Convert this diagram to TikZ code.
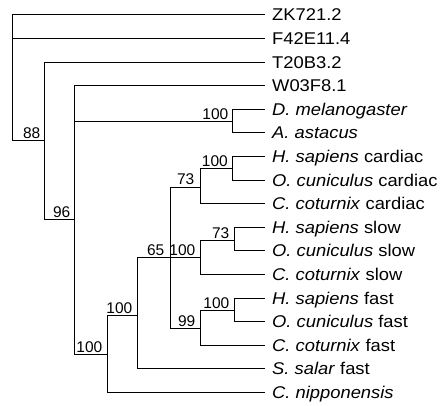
\documentclass[tikz,border=0pt]{standalone}
\usepackage{fontspec}
\setmainfont{Liberation Sans}
\newfontfamily\leaffont{Liberation Sans}[FakeStretch=1.08]
\begin{document}
\begin{tikzpicture}[x=1pt,y=-1pt,
  br/.style={line width=1.8pt, line join=miter},
  leaf/.style={anchor=base west, inner sep=0pt, font=\leaffont\fontsize{17}{20}\selectfont},
  bs/.style={anchor=base east, inner sep=0pt, font=\fontsize{15.5}{18}\selectfont}]
\useasboundingbox (0,0) rectangle (442,405);
% leaf tips
\def\tx{265}
\foreach \n/\i in {ZK/0,F42/1,T20/2,W03/3,Dm/4,Aa/5,Hsc/6,Occ/7,Ccc/8,Hss/9,Ocs/10,Ccs/11,Hsf/12,Ocf/13,Ccf/14,Ss/15,Cn/16}{
  \coordinate (t\n) at (\tx,{floor(14.8+23.6*\i)+0.5});
}
% leaf labels
\node[leaf] (lZK)  at ([xshift=7pt,yshift=-5.5pt]tZK)  {ZK721.2};
\node[leaf] (lF42) at ([xshift=7pt,yshift=-5.5pt]tF42) {F42E11.4};
\node[leaf] (lT20) at ([xshift=7pt,yshift=-5.5pt]tT20) {T20B3.2};
\node[leaf] (lW03) at ([xshift=7pt,yshift=-5.5pt]tW03) {W03F8.1};
\node[leaf] (lDm)  at ([xshift=7pt,yshift=-5.5pt]tDm)  {\itshape D. melanogaster};
\node[leaf] (lAa)  at ([xshift=7pt,yshift=-5.5pt]tAa)  {\itshape A. astacus};
\node[leaf] (lHsc) at ([xshift=7pt,yshift=-5.5pt]tHsc) {\textit{H. sapiens} cardiac};
\node[leaf] (lOcc) at ([xshift=7pt,yshift=-5.5pt]tOcc) {\textit{O. cuniculus} cardiac};
\node[leaf] (lCcc) at ([xshift=7pt,yshift=-5.5pt]tCcc) {\textit{C. coturnix} cardiac};
\node[leaf] (lHss) at ([xshift=7pt,yshift=-5.5pt]tHss) {\textit{H. sapiens} slow};
\node[leaf] (lOcs) at ([xshift=7pt,yshift=-5.5pt]tOcs) {\textit{O. cuniculus} slow};
\node[leaf] (lCcs) at ([xshift=7pt,yshift=-5.5pt]tCcs) {\textit{C. coturnix} slow};
\node[leaf] (lHsf) at ([xshift=7pt,yshift=-5.5pt]tHsf) {\textit{H. sapiens} fast};
\node[leaf] (lOcf) at ([xshift=7pt,yshift=-5.5pt]tOcf) {\textit{O. cuniculus} fast};
\node[leaf] (lCcf) at ([xshift=7pt,yshift=-5.5pt]tCcf) {\textit{C. coturnix} fast};
\node[leaf] (lSs)  at ([xshift=7pt,yshift=-5.5pt]tSs)  {\textit{S. salar} fast};
\node[leaf] (lCn)  at ([xshift=7pt,yshift=-5.5pt]tCn)  {\itshape C. nipponensis};
% internal nodes
\coordinate (root) at (12.5,15.5);
\coordinate (n88) at (44.5,140.5);
\coordinate (n96) at (74.5,219.5);
\coordinate (nDA) at (232.5,121.5);
\coordinate (nA) at (107.5,354.5);
\coordinate (nB) at (137.5,315.5);
\coordinate (n65) at (170.5,257.5);
\coordinate (nCard) at (200.5,187.5);
\coordinate (nHC) at (232.5,168.5);
\coordinate (nSlow) at (200.5,257.5);
\coordinate (nHS) at (234.5,240.5);
\coordinate (nFast) at (200.5,328.5);
\coordinate (nHF) at (234.5,310.5);
% branches
\draw[br] (root) |- (tZK);
\draw[br] (root) |- (tF42);
\draw[br] (root) |- (n88);
\draw[br] (n88) |- (tT20);
\draw[br] (n88) |- (n96);
\draw[br] (n96) |- (tW03);
\draw[br] (n96) |- (nDA);
\draw[br] (n96) |- (nA);
\draw[br] (nDA) |- (tDm);
\draw[br] (nDA) |- (tAa);
\draw[br] (nA) |- (nB);
\draw[br] (nA) |- (tCn);
\draw[br] (nB) |- (n65);
\draw[br] (nB) |- (tSs);
\draw[br] (n65) |- (nCard);
\draw[br] (n65) -- (nSlow);
\draw[br] (n65) |- (nFast);
\draw[br] (nCard) |- (nHC);
\draw[br] (nCard) |- (tCcc);
\draw[br] (nHC) |- (tHsc);
\draw[br] (nHC) |- (tOcc);
\draw[br] (nSlow) |- (nHS);
\draw[br] (nSlow) |- (tCcs);
\draw[br] (nHS) |- (tHss);
\draw[br] (nHS) |- (tOcs);
\draw[br] (nFast) |- (nHF);
\draw[br] (nFast) |- (tCcf);
\draw[br] (nHF) |- (tHsf);
\draw[br] (nHF) |- (tOcf);
% bootstrap values
\node[bs] (b88)  at ([xshift=-4pt,yshift=2.5pt]n88)  {88};
\node[bs] (b96)  at ([xshift=-4pt,yshift=2.5pt]n96)  {96};
\node[bs] (bDA)  at ([xshift=-4pt,yshift=2.5pt]nDA)  {100};
\node[bs] (bA)   at ([xshift=-5pt,yshift=2.5pt]nA)   {100};
\node[bs] (bB)   at ([xshift=-5pt,yshift=2.5pt]nB)   {100};
\node[bs] (b65)  at ([xshift=-6pt,yshift=2.5pt]n65)  {65};
\node[bs] (bCard) at ([xshift=-6pt,yshift=3pt]nCard) {73};
\node[bs] (bHC)  at ([xshift=-4.5pt,yshift=2.5pt]nHC) {100};
\node[bs] (bSlow) at ([xshift=-5pt,yshift=2.5pt]nSlow) {100};
\node[bs] (bHS)  at ([xshift=-5pt,yshift=2.5pt]nHS)  {73};
\node[bs] (bFast) at ([xshift=-5pt,yshift=2.5pt]nFast) {99};
\node[bs] (bHF)  at ([xshift=-5pt,yshift=2.5pt]nHF)  {100};
\end{tikzpicture}
\end{document}
